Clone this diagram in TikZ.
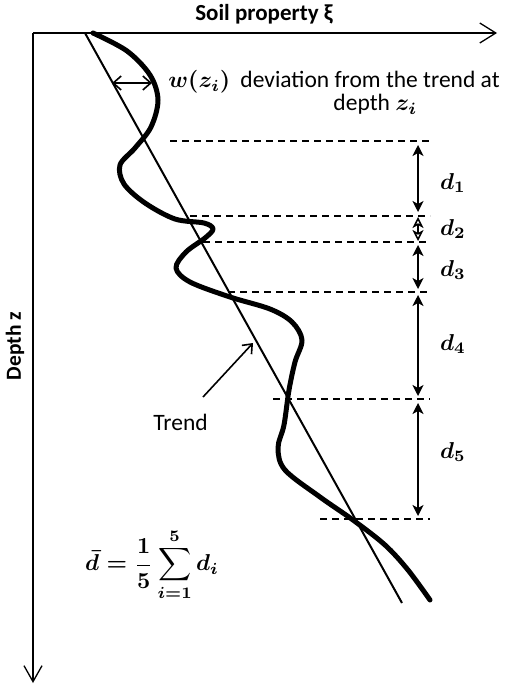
\documentclass[tikz,border=0pt]{standalone}
\usepackage[no-math]{fontspec}
\setmainfont{Carlito}
\usetikzlibrary{arrows.meta}
\tikzset{
  axis/.style={line width=1.3pt,-{Straight Barb[length=16pt,width=20pt,line width=1.3pt]}},
  vaxis/.style={line width=1.3pt,-{Straight Barb[length=16pt,width=18pt,line width=1.3pt]}},
  trendline/.style={line width=2pt},
  wavy/.style={line width=5pt,line cap=round,line join=round},
  level/.style={line width=1.5pt,dash pattern=on 7pt off 5pt},
  darrow/.style={line width=1.5pt,{Stealth[length=11pt,width=11pt,inset=3pt]}-{Stealth[length=11pt,width=11pt,inset=3pt]}},
  warrow/.style={line width=1.6pt,{Straight Barb[length=8pt,width=14pt,line width=1.6pt]}-{Straight Barb[length=8pt,width=14pt,line width=1.6pt]}},
  tarrow/.style={line width=1.6pt,-{Straight Barb[length=8pt,width=13pt,line width=1.6pt]}},
  lbl/.style={inner sep=0pt,scale=2.35,font=\normalsize\boldmath},
  mlbl/.style={inner sep=0pt,scale=2.3,font=\normalsize\boldmath},
}
\begin{document}
\begin{tikzpicture}[x=1pt,y=-1pt]
\useasboundingbox (0,0) rectangle (520,687);
% axes
\coordinate (O) at (33,33);
\coordinate (Xend) at (497,33);
\coordinate (Yend) at (33,683);
\draw[axis] (O) -- (Xend);
\draw[vaxis] (O) -- (Yend);
\node[inner sep=0pt,font=\fontsize{23}{27}\selectfont\bfseries] (xlab) at (264,14) {Soil property ξ};
\node[inner sep=0pt,rotate=90,font=\fontsize{21.5}{25}\selectfont\bfseries] (ylab) at (15,346) {Depth z};
% trend
\coordinate (T0) at (85,33);
\coordinate (T1) at (402,603);
\draw[trendline] (T0) -- (T1);
% wavy profile
\draw[wavy] plot[smooth,tension=0.55] coordinates {
(93,33) (127,51) (150,75) (158,100) (151,127) (135,148) (120,165) (124,184)
(145,203) (175,219) (204,223) (213,229) (205,238) (186,252) (176,268) (190,282)
(230,297) (270,309) (292,322) (302,340) (295,362) (289,390) (284,425) (278,448)
(285,470) (320,497) (353,520) (385,545) (408,570) (430,600)};
% dashed levels
\foreach \n/\xs/\y in {1/170/141, 2/190/216, 3/203/242, 4/228/292, 5/273/399, 6/320/519}{
  \coordinate (L\n a) at (\xs,\y);
  \coordinate (L\n b) at (430,\y);
  \draw[level] (L\n a) -- (L\n b);
}
% d arrows
\coordinate (A1a) at (418,145); \coordinate (A1b) at (418,212);
\coordinate (A2a) at (418,217); \coordinate (A2b) at (418,241);
\coordinate (A3a) at (418,245); \coordinate (A3b) at (418,289);
\coordinate (A4a) at (418,295); \coordinate (A4b) at (418,396);
\coordinate (A5a) at (418,403); \coordinate (A5b) at (418,516);
\draw[darrow] (A1a) -- (A1b);
\draw[line width=1.5pt,{Stealth[length=11pt,width=11pt,inset=3pt,open]}-{Stealth[length=11pt,width=11pt,inset=3pt,open]}] (A2a) -- (A2b);
\draw[darrow] (A3a) -- (A3b);
\draw[darrow] (A4a) -- (A4b);
\draw[darrow] (A5a) -- (A5b);
\node[mlbl] (d1) at (453,183) {$d_1$};
\node[mlbl] (d2) at (453,229) {$d_2$};
\node[mlbl] (d3) at (453,270) {$d_3$};
\node[mlbl] (d4) at (453,344) {$d_4$};
\node[mlbl] (d5) at (453,452) {$d_5$};
% deviation
\coordinate (W0) at (112,83);
\coordinate (W1) at (152,83);
\draw[warrow] (W0) -- (W1);
\node[mlbl,anchor=base west] (wlab) at (168,88) {$w(z_i)$};
\node[lbl,anchor=base west] (dev) at (240,88) {deviation from the trend at};
\node[lbl,anchor=base west] (dep) at (333,111) {depth $z_i$};
% trend label
\node[lbl,anchor=base west] (trend) at (153,430) {Trend};
\coordinate (TA0) at (203,397);
\coordinate (TA1) at (253,343);
\draw[tarrow] (TA0) -- (TA1);
% formula
\node[mlbl] (formula) at (152,565) {$\displaystyle \bar{d}=\frac{1}{5}\sum_{i=1}^{5} d_i$};
\end{tikzpicture}
\end{document}
